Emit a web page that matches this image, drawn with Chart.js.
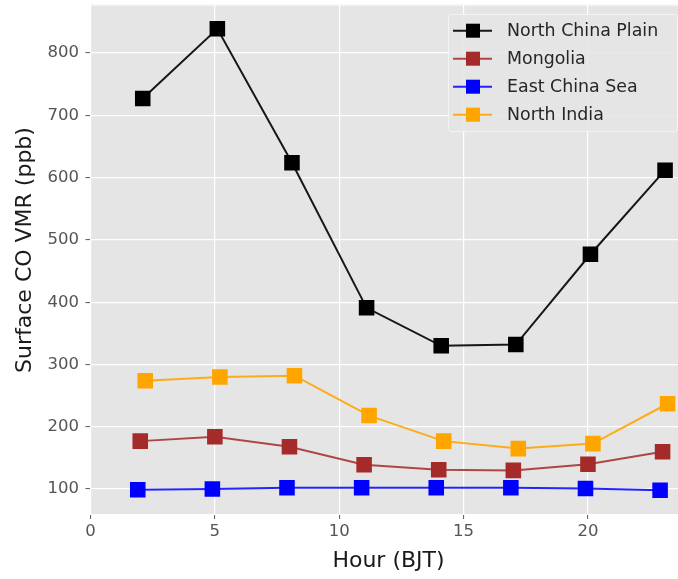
<!DOCTYPE html>
<html><head><meta charset="utf-8">
<script src="https://cdn.jsdelivr.net/npm/chart.js@4.4.0/dist/chart.umd.min.js"></script>
<style>html,body{margin:0;padding:0;background:#fff;overflow:hidden;}</style>
</head><body>
<canvas id="c" width="678" height="579" style="display:block;width:678px;height:579px"></canvas>
<script>
const seriesNames = ['North China Plain', 'Mongolia', 'East China Sea', 'North India'];
const hoursNCP = [2.1, 5.1, 8.1, 11.1, 14.1, 17.1, 20.1, 23.1];
const hoursMGL = [2.0, 5.0, 8.0, 11.0, 14.0, 17.0, 20.0, 23.0];
const hoursECS = [1.9, 4.9, 7.9, 10.9, 13.9, 16.9, 19.9, 22.9];
const hoursNI  = [2.2, 5.2, 8.2, 11.2, 14.2, 17.2, 20.2, 23.2];
const coNCP = [727, 839, 624, 391, 330, 332, 477, 612];
const coMGL = [177, 184, 168, 139, 131, 130, 140, 160];
const coECS = [99, 100, 102, 102, 102, 102, 101, 98];
const coNI  = [274, 280, 282, 218, 177, 165, 173, 237];
const xTickValues = [0, 5, 10, 15, 20];
const yTickValues = [100, 200, 300, 400, 500, 600, 700, 800];
const xTitle = 'Hour (BJT)';
const yTitle = 'Surface CO VMR (ppb)';

const colors = ['#000000', '#A52A2A', '#0000FF', '#FFA500'];
const lineColors = ['rgba(0,0,0,0.9)', 'rgba(165,42,42,0.85)', 'rgba(0,0,255,0.85)', 'rgba(255,165,0,0.9)'];
const FONT = "'DejaVu Sans', sans-serif";

function pts(xs, ys) { return xs.map((x, i) => ({x: x, y: ys[i]})); }
const xsAll = [hoursNCP, hoursMGL, hoursECS, hoursNI];
const ysAll = [coNCP, coMGL, coECS, coNI];

const datasets = seriesNames.map((name, i) => ({
  label: name,
  data: pts(xsAll[i], ysAll[i]),
  borderColor: lineColors[i],
  backgroundColor: colors[i],
  borderWidth: 2,
  pointStyle: 'rect',
  pointRadius: 11,
  pointBorderWidth: 0,
  pointBackgroundColor: colors[i],
  pointBorderColor: colors[i],
  tension: 0,
  order: 4 - i
}));

function zeroPad(s) { s.paddingTop = 0; s.paddingBottom = 0; s.paddingLeft = 0; s.paddingRight = 0; }

const bgPlugin = {
  id: 'bg',
  beforeDraw(chart) {
    const {ctx, chartArea: a} = chart;
    ctx.save();
    ctx.fillStyle = '#E5E5E5';
    ctx.fillRect(a.left, a.top, a.right - a.left, a.bottom - a.top);
    ctx.restore();
  },
  afterDraw(chart) {
    const {ctx, chartArea: a} = chart;
    ctx.save();
    ctx.strokeStyle = '#FFFFFF';
    ctx.lineWidth = 1;
    ctx.beginPath(); ctx.moveTo(a.left, a.top + 0.5); ctx.lineTo(a.right, a.top + 0.5); ctx.stroke();
    // legend
    const bx = 448, by = 14, bw = 229, bh = 117;
    ctx.fillStyle = 'rgba(229,229,229,0.85)';
    ctx.strokeStyle = 'rgba(245,245,245,0.9)';
    ctx.lineWidth = 1;
    ctx.beginPath();
    if (ctx.roundRect) ctx.roundRect(bx + 0.5, by + 0.5, bw, bh, 3); else ctx.rect(bx + 0.5, by + 0.5, bw, bh);
    ctx.fill(); ctx.stroke();
    ctx.font = '17.4px ' + FONT;
    ctx.textBaseline = 'middle';
    ctx.textAlign = 'left';
    chart.data.datasets.forEach((ds, i) => {
      const y = 30.7 + i * 28;
      ctx.strokeStyle = ds.borderColor;
      ctx.lineWidth = 2;
      ctx.beginPath(); ctx.moveTo(453, y); ctx.lineTo(492, y); ctx.stroke();
      ctx.fillStyle = ds.pointBackgroundColor;
      ctx.fillRect(473 - 7, y - 7, 14, 14);
      ctx.fillStyle = '#262626';
      ctx.fillText(ds.label, 507, y + 1);
    });
    // axis titles
    ctx.fillStyle = '#1a1a1a';
    ctx.font = '22px ' + FONT;
    ctx.textAlign = 'center';
    ctx.textBaseline = 'alphabetic';
    ctx.fillText(xTitle, 388.5, 567);
    ctx.translate(31, 250);
    ctx.rotate(-Math.PI / 2);
    ctx.fillText(yTitle, 0, 0);
    ctx.restore();
  }
};

new Chart(document.getElementById('c'), {
  type: 'line',
  data: { datasets: datasets },
  options: {
    responsive: false,
    animation: false,
    devicePixelRatio: 1,
    layout: { autoPadding: false, padding: { top: 4.5, right: 0, left: 0, bottom: 0 } },
    plugins: { legend: { display: false }, tooltip: { enabled: false } },
    scales: {
      x: {
        type: 'linear',
        min: 0, max: 23.62,
        afterBuildTicks(s) { s.ticks = xTickValues.map(v => ({value: v})); },
        afterFit(s) { s.height = 65; zeroPad(s); },
        grid: { color: '#FFFFFF', lineWidth: 1.2, drawTicks: true, tickLength: 5, tickColor: '#555555', tickWidth: 1 },
        border: { display: true, color: '#FFFFFF', width: 1 },
        ticks: { color: '#555555', font: { family: FONT, size: 16.5 }, padding: 3, maxRotation: 0 },
        title: { display: false }
      },
      y: {
        type: 'linear',
        min: 60, max: 878,
        afterBuildTicks(s) { s.ticks = yTickValues.map(v => ({value: v})); },
        afterFit(s) { s.width = 90.5; zeroPad(s); },
        grid: { color: '#FFFFFF', lineWidth: 1.2, drawTicks: true, tickLength: 5, tickColor: '#555555', tickWidth: 1 },
        border: { display: true, color: '#FFFFFF', width: 1 },
        ticks: { color: '#555555', font: { family: FONT, size: 16.5 }, padding: 6.5 },
        title: { display: false }
      }
    }
  },
  plugins: [bgPlugin]
});
</script>
</body></html>
